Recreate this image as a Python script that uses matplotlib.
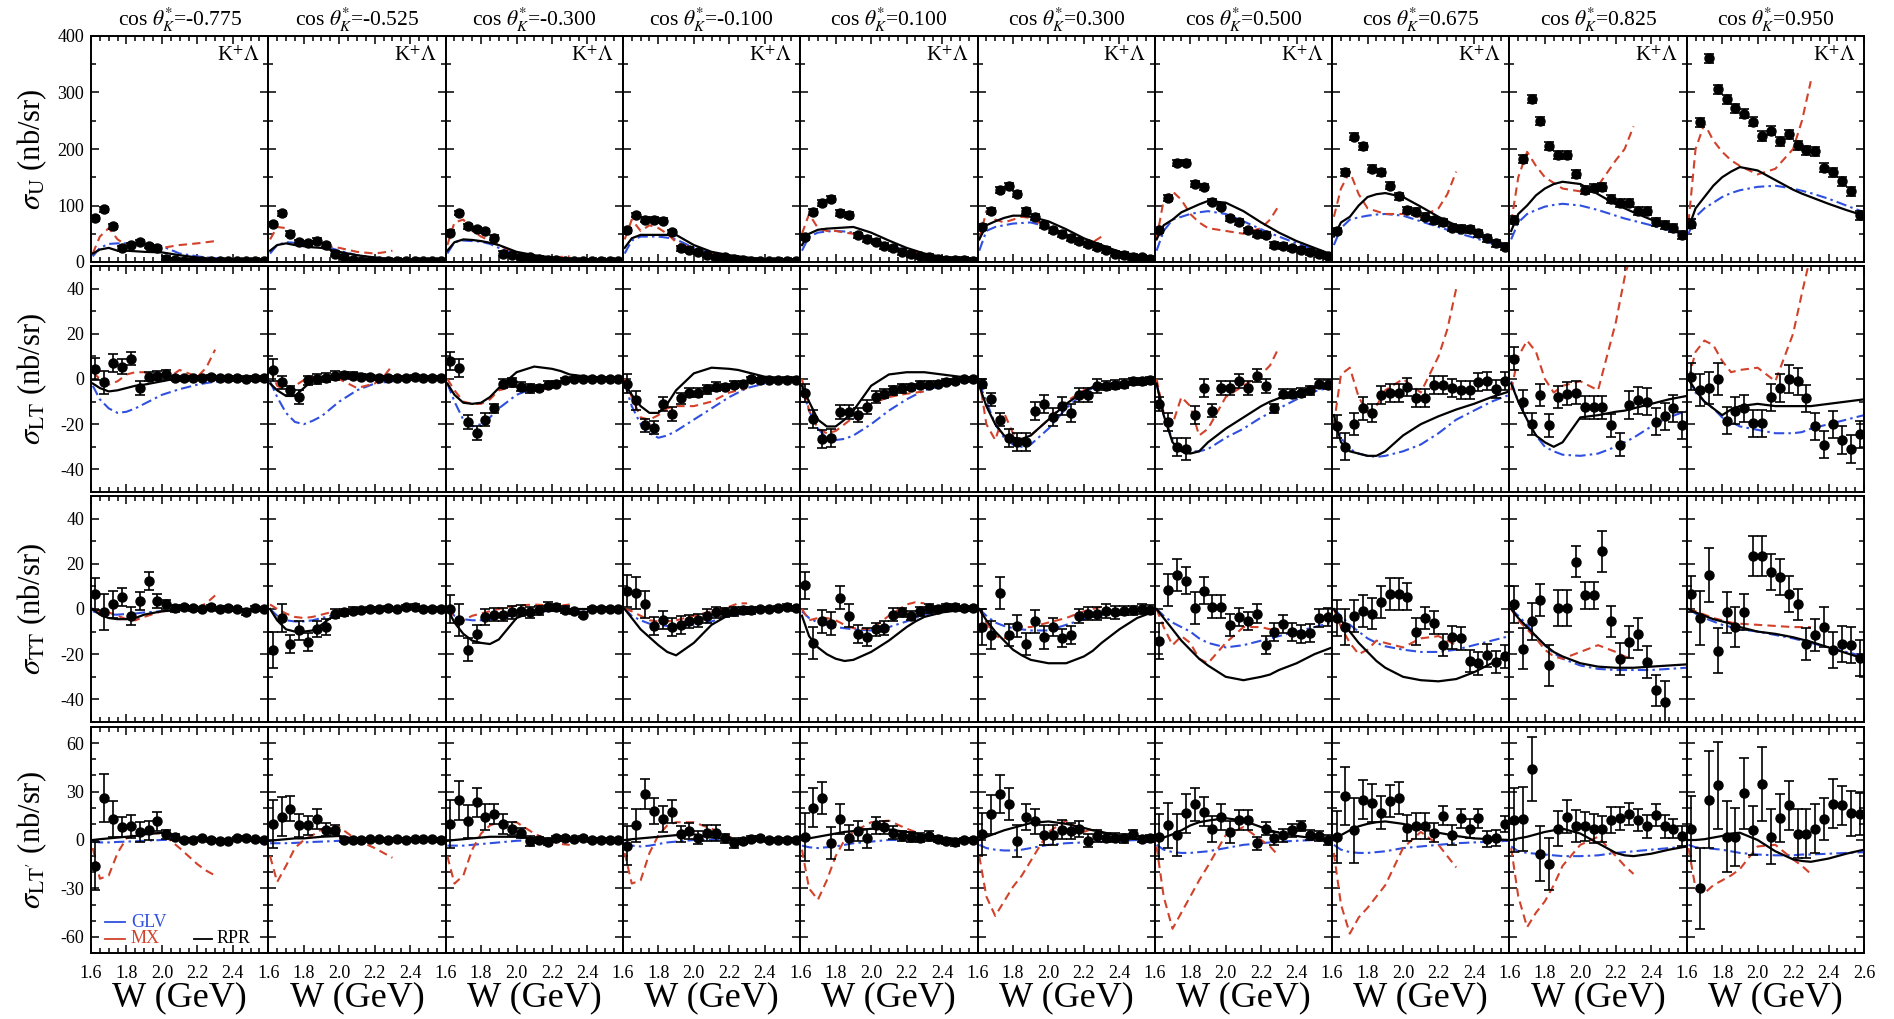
"""K+Lambda structure functions vs W, 4 observables x 10 cos(theta_K*) bins.
Data points with errors and three model curves (GLV, MX, RPR).
"""
import numpy as np
import matplotlib
matplotlib.use("Agg")
import matplotlib.pyplot as plt
from matplotlib.ticker import MultipleLocator

plt.rcParams["font.family"] = "serif"
plt.rcParams["font.serif"] = ["Liberation Serif", "DejaVu Serif"]
plt.rcParams["mathtext.fontset"] = "stix"

COS_BINS = ["-0.775", "-0.525", "-0.300", "-0.100", "0.100",
            "0.300", "0.500", "0.675", "0.825", "0.950"]
W_DATA = [1.625, 1.675, 1.725, 1.775, 1.825, 1.875, 1.925, 1.975, 2.025, 2.075,
          2.125, 2.175, 2.225, 2.275, 2.325, 2.375, 2.425, 2.475, 2.525, 2.575]
# model curves are read at these W; MX only up to 2.30
W_CURVE = [1.61, 1.65, 1.70, 1.75, 1.80, 1.85, 1.90, 2.00, 2.10, 2.20, 2.25, 2.30, 2.40, 2.50, 2.60]

# ---- sigma_U ----
SU_Y = [
    [77, 93, 63, 24, 30, 35, 28, 25, 6, 3, 2, 2, 1, 1, 1, 1, 1, 1, 1, 1],
    [67, 86, 50, 35, 33, 38, 30, 15, 9, 3, 2, 2, 1, 1, 1, 1, 1, 1, 1, 1],
    [52, 87, 63, 58, 55, 43, 15, 12, 9, 8, 6, 4, 3, 2, 2, 1, 1, 1, 1, 1],
    [56, 83, 75, 75, 73, 53, 24, 22, 18, 12, 9, 8, 6, 3, 2, 2, 1, 1, 1, 1],
    [44, 89, 105, 112, 87, 83, 47, 41, 36, 28, 24, 18, 14, 10, 9, 5, 4, 3, 3, 2],
    [62, 90, 127, 135, 120, 90, 80, 65, 56, 50, 43, 37, 31, 27, 21, 15, 12, 9, 8, 6],
    [56, 113, 175, 176, 138, 133, 107, 98, 77, 71, 56, 50, 48, 30, 28, 24, 21, 18, 14, 10],
    [55, 159, 222, 205, 165, 159, 135, 116, 92, 89, 80, 74, 70, 61, 59, 58, 51, 42, 33, 27],
    [74, 183, 289, 249, 205, 189, 189, 156, 128, 131, 133, 111, 105, 105, 91, 91, 71, 65, 60, 48],
    [68, 247, 361, 306, 288, 272, 262, 248, 223, 232, 214, 226, 207, 198, 196, 167, 159, 143, 125, 83],
]
SU_ERR = [4, 4, 4, 4, 5, 5, 5, 6, 7, 8]
SU_GLV = [
    [10, 25, 32, 33, 33, 33, 32, 28, 15, 10, 8, 7, 5, 3, 2],
    [15, 30, 35, 34, 33, 32, 30, 20, 12, 8, 6, 5, 3, 2, 1],
    [15, 35, 38, 37, 36, 32, 25, 15, 10, 7, 6, 5, 3, 2, 1],
    [15, 38, 45, 45, 45, 43, 40, 25, 15, 10, 8, 6, 4, 3, 2],
    [20, 45, 52, 54, 55, 54, 52, 40, 30, 20, 16, 12, 7, 4, 3],
    [20, 55, 62, 65, 68, 69, 70, 62, 50, 35, 30, 25, 15, 10, 6],
    [20, 55, 75, 80, 85, 88, 90, 85, 72, 58, 51, 45, 33, 22, 12],
    [30, 60, 75, 79, 82, 84, 85, 82, 72, 62, 57, 52, 43, 33, 25],
    [40, 70, 85, 92, 98, 101, 103, 100, 92, 82, 77, 73, 65, 56, 48],
    [50, 80, 95, 105, 115, 122, 127, 133, 135, 130, 126, 122, 112, 100, 88],
]
SU_MX = [
    [15, 45, 60, 40, 30, 32, 30, 25, 30, 33, 35, 37],
    [40, 62, 60, 40, 35, 33, 30, 25, 18, 15, 17, 20],
    [30, 70, 75, 55, 45, 38, 30, 15, 10, 8, 9, 10],
    [40, 75, 55, 65, 60, 50, 35, 22, 15, 10, 9, 8],
    [50, 85, 60, 55, 55, 52, 50, 40, 30, 20, 17, 15],
    [40, 90, 75, 70, 75, 80, 78, 60, 45, 30, 35, 45],
    [40, 110, 125, 110, 85, 70, 60, 55, 50, 60, 75, 100],
    [80, 130, 160, 120, 95, 90, 85, 85, 80, 95, 120, 160],
    [70, 150, 195, 170, 150, 140, 130, 125, 135, 180, 200, 240],
    [70, 200, 245, 215, 195, 180, 170, 155, 165, 200, 250, 320],
]
SU_RPR = [
    [15, 22, 25, 20, 20, 19, 18, 17, 12, 8, 6, 5, 3, 2, 1],
    [20, 30, 33, 30, 28, 26, 25, 18, 12, 8, 6, 5, 3, 2, 1],
    [20, 35, 40, 39, 37, 34, 30, 18, 12, 8, 7, 6, 4, 3, 2],
    [25, 42, 48, 48, 48, 48, 48, 30, 18, 12, 10, 8, 5, 3, 2],
    [30, 50, 57, 59, 60, 61, 62, 52, 38, 25, 20, 15, 9, 5, 3],
    [40, 65, 72, 78, 82, 82, 80, 72, 58, 42, 36, 30, 18, 12, 8],
    [40, 65, 75, 88, 95, 102, 108, 105, 90, 70, 61, 52, 37, 25, 13],
    [45, 70, 80, 100, 115, 120, 122, 115, 98, 80, 72, 65, 50, 38, 28],
    [55, 85, 100, 118, 130, 138, 142, 138, 120, 102, 95, 88, 75, 60, 45],
    [60, 95, 115, 135, 150, 160, 168, 162, 145, 128, 121, 115, 103, 92, 82],
]

# ---- sigma_LT ----
LT_Y = [
    [4.5, -1.5, 7, 5.5, 9, -4, 1, 1.5, 2, 0.5, 0.3, 0.5, 0.5, 0.8, 0.5, 0.3, 0.3, 0.2, 0.3, 0.3],
    [4, -1.5, -5, -8, -0.5, 0, 0.5, 1.5, 1.8, 1.5, 1, 0.8, 0.5, 0.5, 0.5, 0.5, 0.8, 0.5, 0.5, 0.5],
    [8, 5, -19, -24, -18, -13, -2, -1.5, -3.5, -4, -4, -2.5, -2, -0.5, 0, 0, 0, 0, 0, 0],
    [-2, -9.5, -20.5, -21.5, -11, -15.5, -8.5, -6, -6, -4.5, -3.5, -3.5, -2.5, -2, 0, -0.5, -0.5, -0.5, -0.3, -0.3],
    [-6, -17.5, -26.5, -26, -14.5, -14.5, -16, -12.5, -8, -6.5, -5, -4, -3.5, -2.5, -2.5, -2, -1.2, -1, 0, 0],
    [-2, -9, -18, -26, -28, -28, -14, -11, -17, -12, -15, -7, -7, -3, -3, -2.5, -2, -1, -1, -0.5],
    [-11, -19, -30, -31, -16, -4, -14, -4, -4, -1, -4, 1.5, -3, -13, -6.5, -6.5, -6, -5, -2, -2.5],
    [-21, -30, -20, -13, -15, -7, -6, -6, -3.5, -8.5, -8.5, -2.5, -2.5, -4, -5, -5, -1.5, -1, -4.5, -1],
    [9, -10, -20, -7, -20.5, -8, -6.5, -6, -12.5, -12.5, -12.5, -20.5, -29, -11.5, -9.5, -10, -19, -16.5, -13, -20.5],
    [1, -5, -4, 0, -18.5, -14, -13, -19.5, -19.5, -8, -4, 0, -1, -8.5, -21, -29, -20, -27, -31, -24.5],
]
LT_ERR = [
    [5, 5, 4, 3.5, 3, 3, 2, 2, 2, 1, 1, 1, 1, 1, 1, 1, 1, 1, 1, 1],
    [5, 3, 2, 3, 2, 2, 2, 2, 1.5, 1.5, 1, 1, 1, 1, 1, 1, 1, 1, 1, 1],
    [4, 4, 3, 3, 3, 2, 2, 2, 2, 2, 1.5, 1.5, 1, 1, 1, 1, 1, 1, 1, 1],
    [4, 4, 3, 3, 3, 3, 2.5, 2, 2, 2, 2, 1.5, 1.5, 1, 1, 1, 1, 1, 1, 1],
    [4, 4, 4, 4, 3, 3, 3, 3, 2.5, 2, 2, 2, 1.5, 1.5, 1.5, 1, 1, 1, 1, 1],
    [2, 3, 3, 4, 4, 4, 4, 4, 4, 4, 4, 3, 3, 3, 2, 2, 2, 1.5, 1.5, 1.5],
    [3, 4, 4, 5, 4, 4, 3, 3, 3, 3, 3, 3, 3, 2, 2, 2, 2, 2, 2, 2],
    [5, 6, 5, 5, 4, 4, 4, 4, 4, 4, 4, 4, 4, 4, 4, 4, 4, 4, 4, 4],
    [5, 5, 5, 5, 5, 5, 5, 5, 5, 5, 5, 5, 5, 6, 6, 6, 6, 6, 6, 6],
    [6, 7, 7, 7, 6, 6, 6, 6, 6, 6, 6, 6, 6, 6, 6, 6, 6, 6, 6, 6],
]
LT_GLV = [
    [-3, -9, -13, -15, -14.5, -13, -11, -7, -4.5, -2.5, -1.8, -1.2, -0.6, -0.3, 0],
    [-1, -8, -15, -19, -20, -18.5, -16.5, -10, -5, -2, -1.5, -1, -0.5, -0.2, 0],
    [-2, -10, -18, -21, -20, -17, -13, -7, -4, -2, -1.5, -1, -0.5, -0.2, 0],
    [-2, -12, -20, -24, -26, -25, -23, -18, -13, -8, -6, -4, -2, -1, -0.5],
    [-4, -14, -22, -26, -27, -26.5, -25, -20, -14, -9, -7, -5, -3, -1.5, -1],
    [-2, -10, -20, -26, -29, -30, -29, -22, -13, -6, -4, -2.5, -1.5, -1, -0.5],
    [-2, -16, -27, -31, -32, -32, -31, -26, -22, -17, -15, -13, -9, -5.5, -3.5],
    [-18, -26, -31, -33, -34, -34.5, -34, -32, -29, -24, -21, -18, -14, -10, -7],
    [-1, -10, -18, -25, -30, -32, -33.5, -34, -33, -30, -28, -26, -21, -17, -14],
    [0, -6, -10, -13, -17, -19, -21, -22.5, -24, -24, -23.5, -22, -20, -18, -16],
]
LT_MX = [
    [3, 0, -2.5, -1, 2, 3, 3, -1.5, 4, 1, 5, 13],
    [4, -3, -5, -3, -0.5, 1, 1.5, 0, -4, -2, 1, 6],
    [0, -5, -10, -11, -11, -9, -5, -3, -5, -4, -2.5, -1],
    [0, -8, -17, -18, -16, -13, -12, -12, -10, -6, -5, -4],
    [0, -14, -22, -24, -23, -20, -17, -11, -8, -6.5, -6, -5.5],
    [0, -20, -27, -15, -24, -27, -25, -18, -10, -5, -3, -2],
    [0, -15, -20, -8, -12, -25, -22, -8, -3, 2, 6, 14],
    [-20, 2, 5, -8, -15, -12, -5, 0, -6, 10, 22, 40],
    [-5, 10, 17, 12, 0, -6, -3, -1, -5, 25, 45, 60],
    [0, 12, 17, 15, 8, 3, 4, 5, -1, 20, 38, 55],
]
LT_RPR = [
    [-2, -4, -5.5, -5, -4, -3, -2.5, -1, 0.5, 0.5, 0.5, 0.3, 0.2, 0.1, 0],
    [-2, -5, -7.5, -7.5, -4, -0.5, 1, 2, 2.5, 1.5, 1, 0.8, 0.5, 0.3, 0.2],
    [-2, -7, -10.5, -11, -10.5, -8, -4, 3, 5.5, 4.5, 3.5, 2, 1, 0.5, 0.2],
    [-2, -7, -12, -15, -15, -11, -5, 2.5, 5, 4.5, 4, 3, 1, 0.5, 0.2],
    [-3, -10, -18, -21, -21, -18, -14, -3, 2, 3, 3, 3, 2, 1, 0.5],
    [-3, -12, -20, -25, -26, -26.5, -25, -18, -11, -5.5, -3.5, -2.5, -1.5, -1, -0.5],
    [-2, -16, -28, -32, -33, -32, -28, -22, -17, -12, -10, -8.5, -6, -3.5, -2],
    [-16, -28, -32, -33, -34, -34, -32, -25, -20, -16.5, -15, -13.5, -11, -8, -5.5],
    [-2, -10, -18, -25, -28, -30, -28, -17, -16, -14.5, -14, -13, -11, -9, -7.5],
    [0, -5, -10, -13, -16, -13.5, -12, -11, -12, -12, -12, -12, -11, -10, -9],
]

# ---- sigma_TT ----
TT_Y = [
    [6.5, -1.5, 2, 5.5, -3, 3.5, 12.5, 3.5, 2, 0.3, 0.7, 0.3, 0, 0.7, 0, 0.3, 0, -1.5, 0.3, 0],
    [-18, -4, -15.5, -9.5, -14.5, -9, -8, -2, -1.5, -0.7, -0.5, -0.2, 0, 0.3, 0, 0.7, 1, 0, 0, 0],
    [0, -5, -18, -11, -3.5, -2.5, -2.5, -1.5, -0.7, -1.5, -0.5, 1, 0.7, -0.3, -1, -2.5, 0, 0, 0, 0],
    [8, 7, 2, -7.5, -5, -8, -7, -5.5, -5, -3, -1.5, -1.5, -1, -0.5, -0.5, 0, 0, 0.3, 1, 0.3],
    [10.5, -15, -5.5, -6.5, 5, -3, -11, -12.5, -9, -8.5, -2.5, -1.5, -3, -1, 0.3, 0, 0.7, 1, 0.3, 0.3],
    [-8, -11.5, 7, -11.5, -7.5, -15.5, -5.5, -12.5, -8, -13, -11.5, -3, -2, -2, -1, -1.5, -0.7, -0.5, 0, -0.3],
    [-14, 8.5, 15, 12.5, 0.5, 8, 1, 1, -7, -3.5, -5.5, -2, -16, -10, -6.5, -10, -11, -10.5, -4, -3.5],
    [-4, -8, -3, -1, -2, 3, 6.5, 6.5, 5.5, -10, -4, -6, -16, -12.5, -13, -23, -24, -20.5, -23.5, -21],
    [2, -17.5, -5.5, 4, -25, 0.3, 0.3, 21, 6, 6, 25.5, -5.5, -22, -14.5, -11, -23.5, -36, -41, np.nan, np.nan],
    [6.5, -4, 15, -18.5, -1.5, -8, -1.5, 23.5, 23.5, 16.5, 14, 6.5, 2, -15.5, -11.5, -8, -18, -15.5, -16, -21.5],
]
TT_ERR = [
    [7, 8, 6, 4, 4, 4, 4, 3, 2, 1.5, 1, 1, 1, 1, 1, 1, 1, 1, 1, 1],
    [8, 6, 4, 4, 4, 3.5, 3.5, 2, 1.5, 1.5, 1, 1, 1, 1, 1, 1, 1, 1, 1, 1],
    [6, 7, 5, 4, 3.5, 3, 3, 3, 2.5, 2.5, 2, 2, 1.5, 1.5, 1, 1, 1, 1, 1, 1],
    [7, 7, 6, 4, 4, 4, 4, 3, 3, 3, 2.5, 2, 2, 1.5, 1.5, 1, 1, 1, 1, 1],
    [6, 7, 5, 5, 5, 5, 4, 4, 3, 3, 3, 2, 2, 2, 2, 1.5, 1.5, 1, 1, 1],
    [8, 6, 7, 5, 5, 5, 5, 5, 4, 4, 4, 3, 3, 3, 3, 3, 2, 2, 2, 2],
    [8, 7, 7, 6, 7, 6, 5, 5, 5, 4, 4, 4, 4, 4, 4, 4, 4, 4, 4, 4],
    [8, 8, 7, 7, 7, 7, 7, 7, 6, 6, 5, 5, 5, 5, 5, 5, 5, 5, 5, 5],
    [8, 9, 8, 7, 9, 8, 8, 7, 6, 6, 9, 7, 7, 7, 7, 7, 7, 9, 0, 0],
    [8, 12, 12, 10, 9, 9, 8, 9, 9, 8, 8, 8, 7, 7, 7, 9, 8, 8, 8, 8],
]
TT_GLV = [
    [-1, -2, -2.5, -2.5, -2.2, -2, -1.5, -1, -0.5, -0.3, -0.2, -0.1, 0, 0, 0],
    [0, -3, -5, -5.5, -5.5, -5, -4, -2, -1, -0.5, -0.3, -0.2, -0.1, 0, 0],
    [0, -3, -4.5, -5, -5, -4.5, -4, -2.5, -1.5, -0.8, -0.5, -0.3, -0.1, 0, 0],
    [0, -3, -5, -6.5, -7, -7.5, -7.5, -7, -5.5, -3, -2.5, -2, -1, -0.5, 0],
    [-1, -4, -6, -7, -8, -8.5, -9, -9.5, -8, -5.5, -4, -2.5, -1.2, -0.5, -0.2],
    [0, -3, -6, -7.5, -8.5, -9, -9.5, -9.5, -7, -4.5, -3.5, -2.5, -1.5, -0.8, -0.5],
    [0, -3, -6, -8, -10, -13, -15, -17, -16, -14, -13, -12, -10, -8, -6],
    [0, -3, -7, -10, -13, -15, -16.5, -18, -19, -19, -18.5, -18, -16, -14, -12],
    [0, -3, -7, -12, -16, -19.5, -22, -25, -26.5, -27, -27, -27, -27, -26.5, -26],
    [0, -2, -4, -5.5, -7, -8, -9, -10, -11.5, -13, -14, -15, -17, -19, -21],
]
TT_MX = [
    [0, -1, -1.5, -3, -4.5, -5, -3.5, -1, 0, 0.5, 2.5, 6],
    [2, 0, -2, -3.5, -4, -3.5, -2.5, -0.5, 0, 0, 0, 0],
    [0, -4, -5, -3, -2, -1, 0, 1.5, 2, 1.5, 1.5, 2],
    [0, -1, -3, -5, -5.5, -5.5, -5, -3, -1, 1, 2.5, 2.5],
    [0, -5, -4, -4, -5, -7, -8.5, -9, -3, 2, 3, 2.5],
    [0, -6, -12, -13, -10, -8, -8, -6, -4, -1, 0, 1],
    [0, -8, -16, -12, -15, -22, -24, -15, -8, -8, -9, -9],
    [0, -8, -15, -20, -18, -14, -15, -17, -13, -12, -14, -16],
    [0, -5, -9, -13, -18, -21, -22, -19, -16, -19, -21, -22],
    [0, -1, -2.5, -4, -5, -6, -6.5, -7, -7.5, -8, -8, -8],
]
TT_RPR = [
    [0, -2.5, -4, -4.5, -4.5, -4, -2.5, -1, -0.5, -0.2, -0.1, 0, 0, 0, 0],
    [0, -5, -9, -10, -10, -9.5, -7, -1, 0, 0, 0, 0, 0, 0, 0],
    [0, -6, -11, -14, -15, -15.5, -13.5, -4, -1, -0.3, -0.1, 0, 0, 0, 0],
    [0, -4, -9, -12.5, -16, -19, -20.5, -15, -7, -2.5, -1.5, -1, -0.3, 0, 0],
    [-3, -12, -17, -20, -22, -23, -22.5, -19, -14, -8, -5.5, -3.5, -1.5, -0.5, 0],
    [0, -5, -10, -14, -18, -20.5, -22.5, -24, -24, -21, -18.5, -15, -9, -4, -1],
    [0, -4, -9, -14, -18, -22, -25, -30, -31.5, -30, -29, -27, -24, -20, -17],
    [0, -5, -10, -15, -19, -23, -26, -30, -31.5, -32, -31.5, -31, -28, -24, -20],
    [0, -4, -8, -12, -16, -19, -21, -24, -25.5, -26, -26, -26, -25.5, -25, -24.5],
    [0, -1.5, -3, -4.5, -5.5, -6.5, -8, -10, -11, -12.5, -13.5, -14.5, -17, -19.5, -22],
]

# ---- sigma_LT' ----
LTP_Y = [
    [-16, 26, 13, 8, 8.5, 5, 6, 11.5, 3.5, 2, 0, 0, 1, 0, -0.5, -0.5, 1, 1.5, 0.5, 0],
    [10, 14.5, 19.5, 9, 9, 13, 6.5, 6.5, 0, 0, 0, 0.5, 0.5, 0, 0.5, 0, 0.5, 0.5, 0.5, 0],
    [10, 24.5, 11.5, 23.5, 14, 16, 10, 7, 4.5, -0.5, 0, -1, 1, 1, 0.5, 1.5, 0, 0, 0, 0],
    [-3.5, 9, 28.5, 18, 13, 17.5, 3.5, 5.5, 1.5, 4.5, 4.5, 1, -2, -0.5, 0.5, 1, 0, 0, 0, 0],
    [2, 20, 26, -2, 13, 1.5, 5.5, 1, 9, 8, 4.5, 2.5, 2, 1.5, 2.5, 0.5, -0.5, -1.5, 0, 0],
    [3.5, 16, 28.5, 22.5, -0.5, 14, 11.5, 3, 3, 6.5, 5.5, 7, -0.5, 2.5, 1.5, 1.5, 1, 3.5, 0.5, 1],
    [2, 9, 3, 16.5, 22, 17.5, 7, 14.5, 5, 12.5, 12.5, -2, 7, 1, 3, 6, 8.5, 3, 2.5, 0],
    [2, 27, 6, 25, 23, 17, 24, 26, 7.5, 8.5, 8.5, 4.5, 15, 3, 13.5, 7, 13.5, 0.5, 1, 10],
    [12.5, 13, 44, -8.5, -15, 7, 14.5, 8.5, 8.5, 7, 7, 12.5, 13.5, 16, 12.5, 8.5, 15.5, 8.5, 7, 2.5],
    [7, -30, 25, 34, 2, 2, 29, 6, 34.5, 2, 13.5, 21.5, 4, 4, 7, 13, 22.5, 21.5, 16.5, 16],
]
LTP_ERR = [
    [15, 15, 11, 6, 7, 6, 6, 6, 3, 2, 1.5, 1, 1, 1, 1, 1, 1, 1, 1, 1],
    [15, 12, 8, 7, 6, 6, 4, 3, 1.5, 1, 1, 1, 1, 1, 1, 1, 1, 1, 1, 1],
    [15, 12, 10, 9, 8, 6, 6, 4, 3, 3, 2, 2, 1.5, 1.5, 1, 1, 1, 1, 1, 1],
    [12, 10, 9, 8, 8, 7, 5, 5, 4, 5, 5, 3, 3, 2, 2, 1.5, 1, 1, 1, 1],
    [15, 12, 10, 10, 9, 8, 6, 6, 5, 4, 4, 3, 3, 3, 3, 2, 2, 2, 1.5, 1.5],
    [13, 12, 12, 10, 10, 8, 8, 6, 6, 6, 5, 5, 4, 4, 3, 3, 3, 3, 2, 2],
    [14, 14, 13, 12, 10, 9, 8, 8, 7, 6, 6, 4, 4, 4, 4, 4, 3, 3, 3, 3],
    [16, 18, 20, 12, 12, 10, 10, 10, 8, 8, 8, 6, 6, 6, 6, 6, 6, 5, 5, 5],
    [20, 20, 20, 17, 16, 11, 10, 10, 9, 9, 8, 8, 7, 7, 7, 7, 7, 7, 6, 6],
    [20, 25, 30, 27, 22, 18, 22, 15, 23, 17, 15, 15, 15, 15, 15, 13, 15, 12, 14, 13],
]
LTP_GLV = [
    [-1, -1.5, -1.5, -1.2, -1, -0.8, -0.5, 0, 0.3, 0.3, 0.2, 0.2, 0.1, 0, 0],
    [-2, -2, -2, -1.8, -1.5, -1.2, -1, -0.5, 0, 0.2, 0.2, 0.2, 0.1, 0, 0],
    [-3.5, -3.5, -3.5, -3, -2.5, -2, -1.5, -0.5, 0, 0, 0, 0, 0, 0, 0],
    [-2, -3.5, -4, -3.5, -2.5, -1.5, -1, 0, 0, 0, 0, 0, 0, 0, 0],
    [-3.5, -4.5, -5, -4.5, -4, -3, -2, -1, 0, 0, 0, 0, 0, 0, 0],
    [-3, -5, -6, -6.5, -6.5, -6, -5, -3, -2, -1.5, -1.2, -1, -0.5, 0, 0],
    [-3, -6, -7.5, -8, -8, -7.5, -7, -5, -3, -2, -1.5, -1, -0.5, 0, 0],
    [-3, -6, -7.5, -8, -8, -7.5, -7, -5, -4, -3, -2.5, -2, -1.5, -1, -0.5],
    [-4, -7, -8, -8.5, -9, -9.5, -10, -10, -9.5, -8, -7.5, -7, -6, -5, -4],
    [-3, -4.5, -5, -5.5, -6, -7, -8, -9, -9.5, -9.5, -9, -9, -8.5, -8, -7.5],
]
LTP_MX = [
    [-5, -24, -22, -8, 1, 3.5, 4.5, 4, -5, -15, -19, -22],
    [-10, -26, -16, -5, 0, 3, 6.5, 8, 0, -5, -8, -11],
    [-10, -27, -22, -6, 4, 9, 11, 11, 4, -1, -2.5, -3],
    [-8, -27, -25, -8, 3, 9, 11, 11, 7, 2, 0, 0],
    [-6, -30, -37, -25, -10, 0, 5, 11, 12, 7, 5, 2.5],
    [-10, -35, -47, -38, -29, -22, -13, 5, 12, 5, 7, 5],
    [-4, -35, -55, -45, -35, -25, -16, 3, 8, 0, -4, -10],
    [-8, -40, -58, -48, -42, -35, -28, -5, 5, -3, -10, -17],
    [-5, -35, -54, -45, -38, -28, -16, -3, 2, -10, -16, -21],
    [-5, -30, -33, -28, -25, -22, -18, -4, -3, -12, -16, -21],
]
LTP_RPR = [
    [0, 0.5, 1, 1.5, 2, 2.5, 3.5, 4.5, 1, 0, 0, 0, 0, 0, 0],
    [-0.5, 0, 0.5, 1, 1, 1.5, 2, 2.5, 0.5, 0, 0, 0, 0, 0, 0],
    [-0.5, 0, 0.5, 1, 1.5, 2, 2, 2, 1, 0, 0, 0, 0, 0, 0],
    [0, 0.5, 1, 1.5, 2, 2.5, 3, 3.5, 1.5, 0.5, 0, 0, 0, 0, 0],
    [0, 1, 2, 3, 4, 5, 5.5, 7, 6.5, 5, 4, 3, 1.5, 0.5, 0],
    [0, 2, 4, 6, 7.5, 9, 10.5, 11.5, 10, 7.5, 6, 5, 2.5, 0.5, 0],
    [0, 1.5, 3.5, 6, 9, 11, 12, 13.5, 12, 8, 6, 4.5, 2.5, 1, 0],
    [0, 3, 6, 8.5, 10, 11, 11.5, 10, 7, 4.5, 3.5, 2.5, 1, 0.5, 0],
    [0, 1, 2, 3.5, 5, 6, 7, 4, -2, -8, -9.5, -10, -8.5, -6, -4],
    [0, 0, 0.5, 1.5, 2.5, 4, 4.5, 0, -7, -12, -13, -13.5, -11.5, -8.5, -6],
]

BLUE = "#2f4fe0"
RED = "#d2412a"

# (y label, y range, labelled ticks, minor step, data...)
ROWS = [
    (r"$\sigma_{\rm U}$ (nb/sr)", (0, 400), [0, 100, 200, 300, 400], 50,
     SU_Y, None, SU_GLV, SU_MX, SU_RPR),
    (r"$\sigma_{\rm LT}$ (nb/sr)", (-50, 50), [-40, -20, 0, 20, 40], 10,
     LT_Y, LT_ERR, LT_GLV, LT_MX, LT_RPR),
    (r"$\sigma_{\rm TT}$ (nb/sr)", (-50, 50), [-40, -20, 0, 20, 40], 10,
     TT_Y, TT_ERR, TT_GLV, TT_MX, TT_RPR),
    (r"$\sigma_{\rm LT'}$ (nb/sr)", (-70, 70), [-60, -30, 0, 30, 60], 10,
     LTP_Y, LTP_ERR, LTP_GLV, LTP_MX, LTP_RPR),
]

FW, FH = 1894, 1019
fig = plt.figure(figsize=(FW / 100, FH / 100), dpi=100)

X0, CW = 91, 177.3          # pixel layout
ROW_TOP = [36, 266, 496, 727]
RH = 226

for r, (ylab, ylim, yt, mnr, Y, ERR, GLV, MX, RPR) in enumerate(ROWS):
    yc = 1 - (ROW_TOP[r] + RH / 2) / FH
    fig.text(32 / FW, yc, ylab, rotation=90, ha="center", va="center", fontsize=22)
    for c in range(10):
        ax = fig.add_axes([(X0 + c * CW) / FW, 1 - (ROW_TOP[r] + RH) / FH, CW / FW, RH / FH])
        ax.plot(W_CURVE, GLV[c], color=BLUE, lw=1.5, ls=(0, (5, 2, 1.2, 2)), zorder=2)
        ax.plot(W_CURVE[:len(MX[c])], MX[c], color=RED, lw=1.5, ls=(0, (4, 2.5)), zorder=2)
        ax.plot(W_CURVE, RPR[c], color="black", lw=1.6, zorder=2)
        err = [SU_ERR[c]] * len(W_DATA) if ERR is None else ERR[c]
        ax.errorbar(W_DATA, Y[c], yerr=err, fmt="o", color="black", ms=6.5,
                    elinewidth=1.2, capsize=3.5, capthick=1.2, zorder=3)
        ax.set_xlim(1.6, 2.6)
        ax.set_ylim(*ylim)
        ax.set_xticks([1.6, 1.8, 2.0, 2.2, 2.4, 2.6])
        ax.xaxis.set_minor_locator(MultipleLocator(0.05))
        ax.set_yticks(yt)
        ax.yaxis.set_minor_locator(MultipleLocator(mnr))
        ax.tick_params(which="both", direction="in", top=True, right=True,
                       labelsize=13, width=1.1, pad=5)
        ax.tick_params(which="major", length=6)
        ax.tick_params(which="minor", length=3.5)
        for s in ax.spines.values():
            s.set_linewidth(1.4)
        if c == 0:
            ax.set_yticklabels([str(v) for v in yt])
        else:
            ax.set_yticklabels([])
        if r == 3:
            labs = ["1.6", "1.8", "2.0", "2.2", "2.4", "2.6" if c == 9 else ""]
            ax.set_xticklabels(labs)
            ax.tick_params(axis="x", pad=9)
        else:
            ax.set_xticklabels([])
        if r == 0:
            ax.text(0.95, 0.955, r"K$^{+}\Lambda$", transform=ax.transAxes,
                    ha="right", va="top", fontsize=15)
            fig.text((X0 + (c + 0.5) * CW) / FW, 1 - 20 / FH,
                     r"cos $\theta_{K}^{*}$=" + COS_BINS[c],
                     ha="center", va="center", fontsize=15.5)
        if r == 3:
            fig.text((X0 + (c + 0.5) * CW) / FW, 1 - 998 / FH, "W (GeV)",
                     ha="center", va="center", fontsize=26)
        if r == 3 and c == 0:
            # hand-drawn legend
            ax.plot([0.08, 0.19], [0.137, 0.137], color=BLUE, lw=1.3, transform=ax.transAxes)
            ax.text(0.225, 0.137, "GLV", color=BLUE, fontsize=13, va="center", transform=ax.transAxes)
            ax.plot([0.08, 0.19], [0.062, 0.062], color=RED, lw=1.3, transform=ax.transAxes)
            ax.text(0.225, 0.062, "MX", color=RED, fontsize=13, va="center", transform=ax.transAxes)
            ax.plot([0.58, 0.68], [0.062, 0.062], color="black", lw=1.3, transform=ax.transAxes)
            ax.text(0.71, 0.062, "RPR", color="black", fontsize=13, va="center", transform=ax.transAxes)

fig.savefig("out.png", dpi=100, facecolor="white")
